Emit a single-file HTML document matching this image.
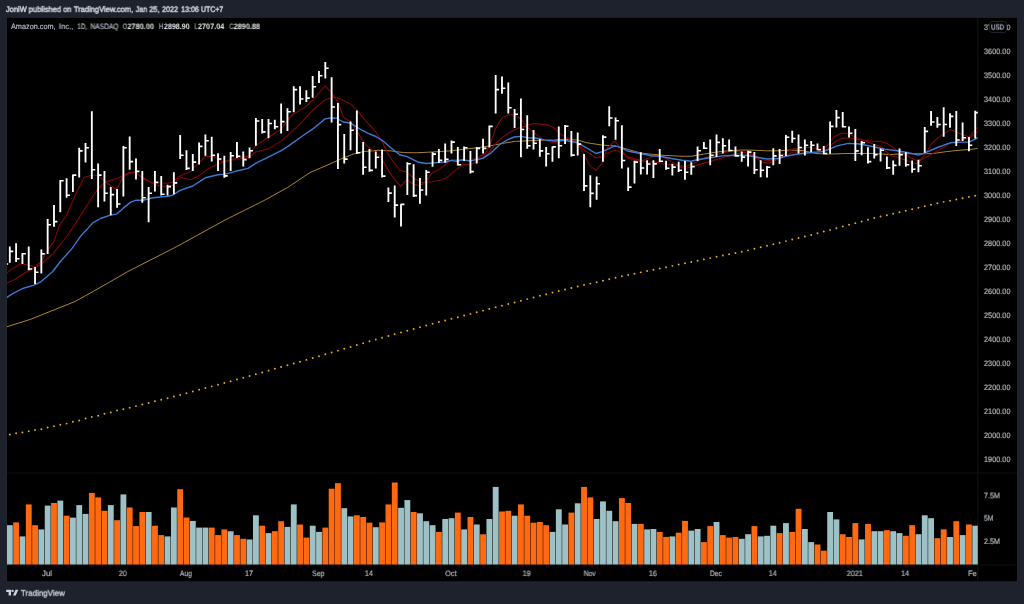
<!DOCTYPE html><html><head><meta charset="utf-8"><title>AMZN chart</title><style>
html,body{margin:0;padding:0}body{width:1024px;height:604px;background:#1e222d;position:relative;overflow:hidden;font-family:"Liberation Sans",sans-serif;text-rendering:geometricPrecision}
.t{position:absolute;white-space:nowrap;line-height:1;transform-origin:0 50%;display:block;filter:blur(0.3px)}
#axisclip{position:absolute;left:7px;top:565px;width:970.3px;height:16.5px;overflow:hidden}
#badge{position:absolute;left:988.9px;top:20.6px;width:15.9px;height:10.5px;border:0.8px solid #1d212b;border-radius:3px;background:#000}
</style></head><body>
<svg width="1024" height="604" viewBox="0 0 1024 604" style="position:absolute;left:0;top:0"><rect x="6.300000000000001" y="17.099999999999998" width="1011.4000000000001" height="565.15" fill="#2a2e39"/><rect x="6.9" y="17.7" width="1010.2" height="563.75" fill="#000"/><clipPath id="cp"><rect x="6.9" y="17.7" width="970.9" height="547.3"/></clipPath><rect x="977.3499999999999" y="17.7" width="0.9" height="563.75" fill="#131417"/><rect x="6.9" y="472.55" width="1010.2" height="0.9" fill="#131417"/><rect x="6.9" y="564.55" width="1010.2" height="0.9" fill="#131417"/><g clip-path="url(#cp)"><rect x="6.90" y="525.2" width="5.85" height="39.3" fill="#9ec1c5"/><rect x="13.21" y="522.4" width="5.85" height="42.1" fill="#ff6912"/><rect x="19.52" y="536.4" width="5.85" height="28.1" fill="#9ec1c5"/><rect x="25.83" y="504.4" width="5.85" height="60.1" fill="#ff6912"/><rect x="32.14" y="525.2" width="5.85" height="39.3" fill="#ff6912"/><rect x="38.45" y="529.4" width="5.85" height="35.1" fill="#9ec1c5"/><rect x="44.76" y="505.6" width="5.85" height="58.9" fill="#9ec1c5"/><rect x="51.07" y="503.0" width="5.85" height="61.5" fill="#ff6912"/><rect x="57.38" y="500.6" width="5.85" height="63.9" fill="#9ec1c5"/><rect x="63.69" y="515.7" width="5.85" height="48.8" fill="#ff6912"/><rect x="70.00" y="517.6" width="5.85" height="46.9" fill="#9ec1c5"/><rect x="76.31" y="505.1" width="5.85" height="59.4" fill="#9ec1c5"/><rect x="82.62" y="513.9" width="5.85" height="50.6" fill="#9ec1c5"/><rect x="88.93" y="492.9" width="5.85" height="71.6" fill="#ff6912"/><rect x="95.24" y="497.4" width="5.85" height="67.1" fill="#ff6912"/><rect x="101.55" y="510.8" width="5.85" height="53.7" fill="#ff6912"/><rect x="107.86" y="505.1" width="5.85" height="59.4" fill="#9ec1c5"/><rect x="114.17" y="520.2" width="5.85" height="44.3" fill="#ff6912"/><rect x="120.48" y="494.4" width="5.85" height="70.1" fill="#9ec1c5"/><rect x="126.79" y="507.5" width="5.85" height="57.0" fill="#ff6912"/><rect x="133.10" y="526.1" width="5.85" height="38.4" fill="#ff6912"/><rect x="139.41" y="512.0" width="5.85" height="52.5" fill="#ff6912"/><rect x="145.72" y="512.0" width="5.85" height="52.5" fill="#9ec1c5"/><rect x="152.03" y="525.7" width="5.85" height="38.8" fill="#ff6912"/><rect x="158.34" y="535.1" width="5.85" height="29.4" fill="#ff6912"/><rect x="164.65" y="536.4" width="5.85" height="28.1" fill="#9ec1c5"/><rect x="170.96" y="507.5" width="5.85" height="57.0" fill="#9ec1c5"/><rect x="177.27" y="489.2" width="5.85" height="75.3" fill="#ff6912"/><rect x="183.58" y="517.5" width="5.85" height="47.0" fill="#ff6912"/><rect x="189.89" y="520.9" width="5.85" height="43.6" fill="#9ec1c5"/><rect x="196.20" y="527.6" width="5.85" height="36.9" fill="#9ec1c5"/><rect x="202.51" y="527.6" width="5.85" height="36.9" fill="#9ec1c5"/><rect x="208.82" y="527.6" width="5.85" height="36.9" fill="#ff6912"/><rect x="215.13" y="535.1" width="5.85" height="29.4" fill="#ff6912"/><rect x="221.44" y="529.4" width="5.85" height="35.1" fill="#ff6912"/><rect x="227.75" y="531.3" width="5.85" height="33.2" fill="#9ec1c5"/><rect x="234.06" y="535.1" width="5.85" height="29.4" fill="#ff6912"/><rect x="240.37" y="538.8" width="5.85" height="25.7" fill="#ff6912"/><rect x="246.68" y="539.5" width="5.85" height="25.0" fill="#9ec1c5"/><rect x="252.99" y="515.3" width="5.85" height="49.2" fill="#9ec1c5"/><rect x="259.30" y="525.7" width="5.85" height="38.8" fill="#ff6912"/><rect x="265.61" y="533.1" width="5.85" height="31.4" fill="#9ec1c5"/><rect x="271.92" y="531.2" width="5.85" height="33.3" fill="#ff6912"/><rect x="278.23" y="521.2" width="5.85" height="43.3" fill="#ff6912"/><rect x="284.54" y="526.9" width="5.85" height="37.6" fill="#9ec1c5"/><rect x="290.85" y="504.4" width="5.85" height="60.1" fill="#9ec1c5"/><rect x="297.16" y="524.5" width="5.85" height="40.0" fill="#ff6912"/><rect x="303.47" y="537.6" width="5.85" height="26.9" fill="#ff6912"/><rect x="309.78" y="525.7" width="5.85" height="38.8" fill="#9ec1c5"/><rect x="316.09" y="531.9" width="5.85" height="32.6" fill="#9ec1c5"/><rect x="322.40" y="527.6" width="5.85" height="36.9" fill="#ff6912"/><rect x="328.71" y="488.7" width="5.85" height="75.8" fill="#ff6912"/><rect x="335.02" y="483.2" width="5.85" height="81.3" fill="#ff6912"/><rect x="341.33" y="508.2" width="5.85" height="56.3" fill="#9ec1c5"/><rect x="347.64" y="516.4" width="5.85" height="48.1" fill="#9ec1c5"/><rect x="353.95" y="515.3" width="5.85" height="49.2" fill="#ff6912"/><rect x="360.26" y="517.0" width="5.85" height="47.5" fill="#ff6912"/><rect x="366.57" y="522.7" width="5.85" height="41.8" fill="#ff6912"/><rect x="372.88" y="527.2" width="5.85" height="37.3" fill="#9ec1c5"/><rect x="379.19" y="522.4" width="5.85" height="42.1" fill="#ff6912"/><rect x="385.50" y="504.4" width="5.85" height="60.1" fill="#ff6912"/><rect x="391.81" y="482.5" width="5.85" height="82.0" fill="#ff6912"/><rect x="398.12" y="507.8" width="5.85" height="56.7" fill="#9ec1c5"/><rect x="404.43" y="500.1" width="5.85" height="64.4" fill="#9ec1c5"/><rect x="410.74" y="512.0" width="5.85" height="52.5" fill="#ff6912"/><rect x="417.05" y="513.3" width="5.85" height="51.2" fill="#9ec1c5"/><rect x="423.36" y="521.2" width="5.85" height="43.3" fill="#9ec1c5"/><rect x="429.67" y="525.2" width="5.85" height="39.3" fill="#9ec1c5"/><rect x="435.98" y="531.9" width="5.85" height="32.6" fill="#ff6912"/><rect x="442.29" y="519.0" width="5.85" height="45.5" fill="#9ec1c5"/><rect x="448.60" y="518.2" width="5.85" height="46.3" fill="#9ec1c5"/><rect x="454.91" y="512.6" width="5.85" height="51.9" fill="#ff6912"/><rect x="461.22" y="529.4" width="5.85" height="35.1" fill="#9ec1c5"/><rect x="467.53" y="517.0" width="5.85" height="47.5" fill="#ff6912"/><rect x="473.84" y="524.5" width="5.85" height="40.0" fill="#9ec1c5"/><rect x="480.15" y="534.3" width="5.85" height="30.2" fill="#ff6912"/><rect x="486.46" y="519.0" width="5.85" height="45.5" fill="#9ec1c5"/><rect x="492.77" y="486.9" width="5.85" height="77.6" fill="#9ec1c5"/><rect x="499.08" y="511.5" width="5.85" height="53.0" fill="#ff6912"/><rect x="505.39" y="510.8" width="5.85" height="53.7" fill="#ff6912"/><rect x="511.70" y="515.7" width="5.85" height="48.8" fill="#9ec1c5"/><rect x="518.01" y="504.4" width="5.85" height="60.1" fill="#ff6912"/><rect x="524.32" y="515.7" width="5.85" height="48.8" fill="#ff6912"/><rect x="530.63" y="522.7" width="5.85" height="41.8" fill="#ff6912"/><rect x="536.94" y="522.0" width="5.85" height="42.5" fill="#ff6912"/><rect x="543.25" y="525.2" width="5.85" height="39.3" fill="#ff6912"/><rect x="549.56" y="531.9" width="5.85" height="32.6" fill="#9ec1c5"/><rect x="555.87" y="509.3" width="5.85" height="55.2" fill="#9ec1c5"/><rect x="562.18" y="524.5" width="5.85" height="40.0" fill="#9ec1c5"/><rect x="568.49" y="512.6" width="5.85" height="51.9" fill="#ff6912"/><rect x="574.80" y="503.3" width="5.85" height="61.2" fill="#9ec1c5"/><rect x="581.11" y="486.9" width="5.85" height="77.6" fill="#ff6912"/><rect x="587.42" y="497.4" width="5.85" height="67.1" fill="#ff6912"/><rect x="593.73" y="519.0" width="5.85" height="45.5" fill="#9ec1c5"/><rect x="600.04" y="501.4" width="5.85" height="63.1" fill="#9ec1c5"/><rect x="606.35" y="510.8" width="5.85" height="53.7" fill="#9ec1c5"/><rect x="612.66" y="521.2" width="5.85" height="43.3" fill="#9ec1c5"/><rect x="618.97" y="498.1" width="5.85" height="66.4" fill="#ff6912"/><rect x="625.28" y="503.0" width="5.85" height="61.5" fill="#ff6912"/><rect x="631.59" y="523.9" width="5.85" height="40.6" fill="#9ec1c5"/><rect x="637.90" y="523.9" width="5.85" height="40.6" fill="#ff6912"/><rect x="644.21" y="529.4" width="5.85" height="35.1" fill="#9ec1c5"/><rect x="650.52" y="529.0" width="5.85" height="35.5" fill="#9ec1c5"/><rect x="656.83" y="531.9" width="5.85" height="32.6" fill="#ff6912"/><rect x="663.14" y="536.9" width="5.85" height="27.6" fill="#ff6912"/><rect x="669.45" y="536.4" width="5.85" height="28.1" fill="#9ec1c5"/><rect x="675.76" y="532.7" width="5.85" height="31.8" fill="#ff6912"/><rect x="682.07" y="520.9" width="5.85" height="43.6" fill="#ff6912"/><rect x="688.38" y="530.6" width="5.85" height="33.9" fill="#9ec1c5"/><rect x="694.69" y="529.0" width="5.85" height="35.5" fill="#9ec1c5"/><rect x="701.00" y="542.1" width="5.85" height="22.4" fill="#ff6912"/><rect x="707.31" y="526.1" width="5.85" height="38.4" fill="#ff6912"/><rect x="713.62" y="522.0" width="5.85" height="42.5" fill="#9ec1c5"/><rect x="719.93" y="535.1" width="5.85" height="29.4" fill="#ff6912"/><rect x="726.24" y="537.6" width="5.85" height="26.9" fill="#ff6912"/><rect x="732.55" y="537.0" width="5.85" height="27.5" fill="#ff6912"/><rect x="738.86" y="538.8" width="5.85" height="25.7" fill="#9ec1c5"/><rect x="745.17" y="534.2" width="5.85" height="30.3" fill="#9ec1c5"/><rect x="751.48" y="526.1" width="5.85" height="38.4" fill="#ff6912"/><rect x="757.79" y="536.4" width="5.85" height="28.1" fill="#9ec1c5"/><rect x="764.10" y="535.8" width="5.85" height="28.7" fill="#9ec1c5"/><rect x="770.41" y="525.7" width="5.85" height="38.8" fill="#9ec1c5"/><rect x="776.72" y="533.1" width="5.85" height="31.4" fill="#ff6912"/><rect x="783.03" y="523.1" width="5.85" height="41.4" fill="#9ec1c5"/><rect x="789.34" y="531.9" width="5.85" height="32.6" fill="#ff6912"/><rect x="795.65" y="508.8" width="5.85" height="55.7" fill="#ff6912"/><rect x="801.96" y="529.0" width="5.85" height="35.5" fill="#9ec1c5"/><rect x="808.27" y="542.1" width="5.85" height="22.4" fill="#9ec1c5"/><rect x="814.58" y="544.5" width="5.85" height="20.0" fill="#ff6912"/><rect x="820.89" y="550.7" width="5.85" height="13.8" fill="#ff6912"/><rect x="827.20" y="512.0" width="5.85" height="52.5" fill="#9ec1c5"/><rect x="833.51" y="519.4" width="5.85" height="45.1" fill="#9ec1c5"/><rect x="839.82" y="534.3" width="5.85" height="30.2" fill="#ff6912"/><rect x="846.13" y="537.0" width="5.85" height="27.5" fill="#ff6912"/><rect x="852.44" y="523.1" width="5.85" height="41.4" fill="#ff6912"/><rect x="858.75" y="539.4" width="5.85" height="25.1" fill="#9ec1c5"/><rect x="865.06" y="523.9" width="5.85" height="40.6" fill="#ff6912"/><rect x="871.37" y="531.2" width="5.85" height="33.3" fill="#9ec1c5"/><rect x="877.68" y="531.2" width="5.85" height="33.3" fill="#9ec1c5"/><rect x="883.99" y="530.2" width="5.85" height="34.3" fill="#ff6912"/><rect x="890.30" y="531.2" width="5.85" height="33.3" fill="#9ec1c5"/><rect x="896.61" y="533.1" width="5.85" height="31.4" fill="#9ec1c5"/><rect x="902.92" y="535.8" width="5.85" height="28.7" fill="#ff6912"/><rect x="909.23" y="525.2" width="5.85" height="39.3" fill="#ff6912"/><rect x="915.54" y="534.2" width="5.85" height="30.3" fill="#9ec1c5"/><rect x="921.85" y="515.3" width="5.85" height="49.2" fill="#9ec1c5"/><rect x="928.16" y="518.2" width="5.85" height="46.3" fill="#9ec1c5"/><rect x="934.47" y="538.2" width="5.85" height="26.3" fill="#ff6912"/><rect x="940.78" y="529.4" width="5.85" height="35.1" fill="#ff6912"/><rect x="947.09" y="537.0" width="5.85" height="27.5" fill="#9ec1c5"/><rect x="953.40" y="521.2" width="5.85" height="43.3" fill="#ff6912"/><rect x="959.71" y="535.1" width="5.85" height="29.4" fill="#9ec1c5"/><rect x="966.02" y="524.5" width="5.85" height="40.0" fill="#ff6912"/><rect x="972.33" y="525.7" width="5.85" height="38.8" fill="#9ec1c5"/><path d="M6.0,327.0 L30.0,319.5 L75.0,301.5 L90.6,292.9 L108.2,282.9 L127.9,271.5 L175.0,247.5 L225.0,220.0 L263.1,201.0 L287.9,187.3 L310.0,172.5 L328.0,164.8 L340.6,159.1 L353.2,154.1 L363.2,151.6 L378.3,150.3 L390.9,150.9 L403.5,152.6 L416.1,152.8 L428.6,152.2 L441.2,151.5 L452.6,150.7 L465.2,149.0 L477.7,147.7 L490.3,145.8 L502.9,143.3 L515.5,141.4 L528.1,140.8 L540.6,140.2 L553.2,140.1 L564.6,139.3 L577.2,140.0 L587.2,142.8 L602.3,145.1 L614.9,145.9 L627.5,149.3 L640.1,152.9 L652.6,154.4 L665.2,155.4 L679.9,156.2 L690.9,156.3 L703.4,154.2 L716.0,152.1 L728.6,150.8 L741.2,150.0 L753.8,150.2 L766.3,150.8 L778.9,150.8 L791.5,150.0 L802.9,150.6 L815.4,153.5 L828.0,154.1 L846.9,153.5 L872.1,153.5 L890.9,154.5 L903.5,153.7 L921.2,153.8 L933.7,153.5 L946.3,151.6 L958.9,150.3 L971.5,149.3 L977.8,148.4" fill="none" stroke="#aa852a" stroke-width="1.0" stroke-linejoin="round"/><path d="M6.5,283.5 L15.1,279.3 L25.2,272.8 L32.7,269.0 L41.5,264.0 L52.8,253.9 L60.4,244.5 L67.0,236.0 L72.7,227.9 L81.5,214.1 L90.3,200.3 L97.9,188.9 L105.4,182.0 L115.5,178.9 L123.0,175.7 L129.3,172.6 L135.6,172.6 L143.1,177.6 L150.7,182.6 L159.5,186.0 L167.9,186.5 L172.6,185.4 L180.1,177.5 L190.2,179.7 L197.7,176.6 L207.8,169.0 L217.9,164.0 L227.9,160.8 L238.0,159.0 L248.1,158.0 L255.6,152.0 L268.2,148.9 L280.8,141.4 L287.6,135.6 L299.9,124.2 L312.5,110.3 L325.1,100.0 L331.4,97.7 L337.7,97.7 L345.2,101.5 L351.0,104.2 L356.9,110.1 L365.7,120.8 L374.5,130.2 L382.1,141.5 L388.5,155.0 L399.9,170.5 L406.2,171.9 L413.7,178.0 L422.5,183.0 L431.3,181.8 L442.0,179.8 L447.0,177.5 L455.1,170.6 L463.3,164.5 L470.8,164.8 L479.7,159.3 L487.4,154.5 L495.3,144.0 L502.9,137.0 L510.4,132.0 L518.0,128.2 L525.5,126.1 L533.1,123.6 L540.6,124.1 L548.2,125.1 L553.0,127.0 L559.9,133.6 L567.5,138.4 L577.2,143.4 L584.7,150.3 L596.0,157.9 L602.3,156.6 L607.3,152.9 L614.9,150.3 L621.2,152.2 L627.5,156.6 L640.1,160.4 L647.6,162.3 L652.6,161.7 L660.2,162.9 L667.7,164.8 L676.0,164.8 L679.7,167.2 L685.8,168.5 L694.6,165.9 L703.4,163.4 L716.0,159.7 L728.6,155.9 L741.2,152.7 L750.0,153.4 L760.1,158.4 L767.6,160.9 L775.1,159.7 L784.6,155.9 L792.8,152.3 L800.0,151.5 L809.2,152.8 L821.7,151.6 L826.8,149.7 L834.3,142.1 L841.9,138.4 L849.4,137.7 L859.5,139.6 L872.1,143.4 L882.1,147.2 L890.9,156.0 L897.2,157.2 L905.5,160.3 L916.1,163.5 L921.2,159.7 L927.4,156.6 L936.3,151.6 L946.3,145.9 L951.3,142.8 L958.9,140.9 L966.4,138.4 L971.5,136.5 L977.8,131.4" fill="none" stroke="#830606" stroke-width="1.1" stroke-linejoin="round"/><path d="M6.5,273.4 L12.6,268.4 L21.4,263.7 L28.9,265.3 L35.2,266.5 L41.5,261.5 L47.8,249.5 L54.1,241.4 L58.9,226.5 L66.4,215.3 L75.2,195.2 L84.0,177.4 L91.6,175.3 L97.9,175.3 L105.4,182.0 L115.5,188.9 L118.0,187.0 L123.0,176.4 L129.3,173.2 L135.6,171.9 L143.1,178.9 L150.7,182.0 L159.5,182.8 L167.9,183.3 L172.6,182.2 L178.9,176.6 L191.4,170.9 L197.7,164.0 L205.3,156.4 L214.1,156.4 L222.9,162.1 L230.4,160.2 L238.0,158.0 L248.1,156.4 L255.6,145.8 L268.2,137.2 L279.8,130.2 L292.4,114.7 L305.0,107.2 L313.8,99.0 L325.1,85.8 L331.4,92.7 L337.7,101.5 L343.5,117.2 L350.4,121.5 L356.9,131.4 L365.7,144.7 L373.3,150.9 L380.3,156.4 L391.1,174.9 L400.5,186.2 L406.8,179.9 L413.7,184.3 L420.0,185.6 L426.3,181.2 L431.3,173.6 L440.2,168.8 L447.6,162.8 L452.0,159.4 L456.5,159.8 L462.7,159.5 L469.6,161.3 L477.2,158.1 L485.3,153.4 L490.3,144.0 L495.3,128.9 L501.6,118.2 L507.9,115.0 L514.2,114.8 L520.5,118.8 L528.1,127.6 L535.6,133.9 L543.1,139.6 L550.7,142.1 L558.2,143.3 L567.9,137.5 L577.2,143.4 L580.9,149.1 L589.7,165.4 L596.0,170.5 L602.3,162.9 L607.3,147.8 L614.9,140.9 L621.2,149.1 L627.5,157.9 L640.1,161.7 L652.6,156.6 L658.9,155.4 L667.7,159.2 L678.3,165.6 L685.8,166.6 L694.6,162.8 L703.4,158.4 L716.0,154.6 L728.6,151.5 L737.4,151.5 L747.5,152.7 L753.8,156.5 L762.6,162.2 L767.6,163.4 L775.1,160.9 L782.7,155.3 L791.5,149.0 L799.9,148.0 L809.2,147.2 L821.7,149.1 L826.8,146.5 L834.3,136.5 L841.9,133.0 L849.4,133.7 L855.7,137.7 L864.5,140.3 L872.1,141.3 L879.6,141.3 L887.1,143.4 L897.2,150.5 L904.2,153.5 L911.5,158.2 L918.6,161.0 L924.9,155.3 L931.2,144.0 L938.8,137.1 L946.3,132.1 L950.1,129.6 L956.4,132.1 L962.7,134.6 L969.0,137.1 L974.0,131.4 L977.8,127.0" fill="none" stroke="#830606" stroke-width="1.1" stroke-linejoin="round"/><path d="M6.5,297.7 L12.6,293.6 L22.6,288.5 L34.0,285.1 L40.3,282.2 L52.8,271.5 L60.4,261.5 L71.7,248.9 L80.5,236.3 L86.8,229.6 L92.8,222.9 L100.4,218.5 L110.4,215.1 L116.7,214.1 L123.0,208.4 L130.6,202.1 L135.6,200.3 L143.1,200.3 L153.2,197.7 L160.0,197.0 L167.9,196.2 L172.6,195.2 L180.1,190.4 L192.7,186.0 L205.3,177.8 L217.9,174.7 L225.4,174.1 L235.5,171.3 L248.1,168.4 L255.6,163.4 L268.2,157.1 L280.8,150.8 L287.9,146.4 L302.4,136.0 L312.5,129.2 L325.1,118.9 L331.4,117.8 L336.4,118.1 L343.1,122.0 L350.4,123.0 L359.6,128.8 L368.3,133.3 L375.8,136.5 L382.1,140.3 L390.9,147.8 L399.7,154.7 L407.2,156.6 L418.6,162.3 L426.1,163.5 L436.2,162.6 L446.2,162.0 L451.0,160.4 L456.2,161.3 L462.6,159.7 L470.2,160.9 L482.8,158.4 L490.3,153.4 L500.4,144.0 L507.9,139.6 L514.2,137.0 L520.5,136.4 L528.1,137.7 L536.9,138.3 L544.4,139.9 L555.0,141.0 L564.6,140.3 L577.2,142.5 L582.2,145.3 L596.0,153.5 L602.3,151.6 L614.9,145.9 L621.2,147.6 L627.5,151.0 L640.1,153.5 L652.6,156.0 L658.9,156.0 L671.5,158.5 L682.1,160.3 L690.9,161.3 L697.2,159.7 L709.7,157.8 L722.3,155.9 L734.9,155.3 L747.5,155.5 L760.1,157.8 L767.6,159.0 L778.9,158.4 L787.0,156.0 L796.6,154.3 L809.2,152.8 L821.7,151.6 L826.8,150.3 L836.8,145.9 L848.2,143.4 L859.5,144.0 L872.1,146.5 L884.6,149.1 L897.2,150.7 L908.6,152.8 L918.6,155.1 L924.9,152.8 L937.5,147.5 L950.1,142.8 L962.7,142.1 L969.0,142.1 L977.8,137.7" fill="none" stroke="#3b79d2" stroke-width="1.4" stroke-linejoin="round"/><circle cx="9.80" cy="434.50" r="0.98" fill="#e2ab20"/><circle cx="16.11" cy="433.19" r="0.98" fill="#e2ab20"/><circle cx="22.42" cy="432.58" r="0.98" fill="#e2ab20"/><circle cx="28.73" cy="431.27" r="0.98" fill="#e2ab20"/><circle cx="35.04" cy="430.07" r="0.98" fill="#e2ab20"/><circle cx="41.35" cy="429.29" r="0.98" fill="#e2ab20"/><circle cx="47.66" cy="427.41" r="0.98" fill="#e2ab20"/><circle cx="53.97" cy="426.19" r="0.98" fill="#e2ab20"/><circle cx="60.28" cy="424.80" r="0.98" fill="#e2ab20"/><circle cx="66.59" cy="423.62" r="0.98" fill="#e2ab20"/><circle cx="72.90" cy="421.78" r="0.98" fill="#e2ab20"/><circle cx="79.21" cy="420.42" r="0.98" fill="#e2ab20"/><circle cx="85.52" cy="418.54" r="0.98" fill="#e2ab20"/><circle cx="91.83" cy="416.89" r="0.98" fill="#e2ab20"/><circle cx="98.14" cy="415.69" r="0.98" fill="#e2ab20"/><circle cx="104.45" cy="413.69" r="0.98" fill="#e2ab20"/><circle cx="110.76" cy="412.48" r="0.98" fill="#e2ab20"/><circle cx="117.07" cy="410.59" r="0.98" fill="#e2ab20"/><circle cx="123.38" cy="409.30" r="0.98" fill="#e2ab20"/><circle cx="129.69" cy="407.71" r="0.98" fill="#e2ab20"/><circle cx="136.00" cy="406.12" r="0.98" fill="#e2ab20"/><circle cx="142.31" cy="404.52" r="0.98" fill="#e2ab20"/><circle cx="148.62" cy="402.93" r="0.98" fill="#e2ab20"/><circle cx="154.93" cy="401.33" r="0.98" fill="#e2ab20"/><circle cx="161.24" cy="399.74" r="0.98" fill="#e2ab20"/><circle cx="167.55" cy="398.15" r="0.98" fill="#e2ab20"/><circle cx="173.86" cy="396.55" r="0.98" fill="#e2ab20"/><circle cx="180.17" cy="394.95" r="0.98" fill="#e2ab20"/><circle cx="186.48" cy="393.24" r="0.98" fill="#e2ab20"/><circle cx="192.79" cy="391.52" r="0.98" fill="#e2ab20"/><circle cx="199.10" cy="389.80" r="0.98" fill="#e2ab20"/><circle cx="205.41" cy="388.09" r="0.98" fill="#e2ab20"/><circle cx="211.72" cy="386.37" r="0.98" fill="#e2ab20"/><circle cx="218.03" cy="384.66" r="0.98" fill="#e2ab20"/><circle cx="224.34" cy="382.94" r="0.98" fill="#e2ab20"/><circle cx="230.65" cy="381.22" r="0.98" fill="#e2ab20"/><circle cx="236.96" cy="379.51" r="0.98" fill="#e2ab20"/><circle cx="243.27" cy="377.78" r="0.98" fill="#e2ab20"/><circle cx="249.58" cy="375.99" r="0.98" fill="#e2ab20"/><circle cx="255.89" cy="374.20" r="0.98" fill="#e2ab20"/><circle cx="262.20" cy="372.42" r="0.98" fill="#e2ab20"/><circle cx="268.51" cy="370.63" r="0.98" fill="#e2ab20"/><circle cx="274.82" cy="368.84" r="0.98" fill="#e2ab20"/><circle cx="281.13" cy="367.05" r="0.98" fill="#e2ab20"/><circle cx="287.44" cy="365.26" r="0.98" fill="#e2ab20"/><circle cx="293.75" cy="363.47" r="0.98" fill="#e2ab20"/><circle cx="300.06" cy="361.68" r="0.98" fill="#e2ab20"/><circle cx="306.37" cy="359.89" r="0.98" fill="#e2ab20"/><circle cx="312.68" cy="358.03" r="0.98" fill="#e2ab20"/><circle cx="318.99" cy="356.18" r="0.98" fill="#e2ab20"/><circle cx="325.30" cy="354.32" r="0.98" fill="#e2ab20"/><circle cx="331.61" cy="352.47" r="0.98" fill="#e2ab20"/><circle cx="337.92" cy="350.61" r="0.98" fill="#e2ab20"/><circle cx="344.23" cy="348.75" r="0.98" fill="#e2ab20"/><circle cx="350.54" cy="346.90" r="0.98" fill="#e2ab20"/><circle cx="356.85" cy="345.04" r="0.98" fill="#e2ab20"/><circle cx="363.16" cy="343.18" r="0.98" fill="#e2ab20"/><circle cx="369.47" cy="341.33" r="0.98" fill="#e2ab20"/><circle cx="375.78" cy="339.48" r="0.98" fill="#e2ab20"/><circle cx="382.09" cy="337.73" r="0.98" fill="#e2ab20"/><circle cx="388.40" cy="335.98" r="0.98" fill="#e2ab20"/><circle cx="394.71" cy="334.23" r="0.98" fill="#e2ab20"/><circle cx="401.02" cy="332.48" r="0.98" fill="#e2ab20"/><circle cx="407.33" cy="330.73" r="0.98" fill="#e2ab20"/><circle cx="413.64" cy="328.98" r="0.98" fill="#e2ab20"/><circle cx="419.95" cy="327.23" r="0.98" fill="#e2ab20"/><circle cx="426.26" cy="325.48" r="0.98" fill="#e2ab20"/><circle cx="432.57" cy="323.73" r="0.98" fill="#e2ab20"/><circle cx="438.88" cy="322.09" r="0.98" fill="#e2ab20"/><circle cx="445.19" cy="320.45" r="0.98" fill="#e2ab20"/><circle cx="451.50" cy="318.81" r="0.98" fill="#e2ab20"/><circle cx="457.81" cy="317.17" r="0.98" fill="#e2ab20"/><circle cx="464.12" cy="315.53" r="0.98" fill="#e2ab20"/><circle cx="470.43" cy="313.89" r="0.98" fill="#e2ab20"/><circle cx="476.74" cy="312.25" r="0.98" fill="#e2ab20"/><circle cx="483.05" cy="310.61" r="0.98" fill="#e2ab20"/><circle cx="489.36" cy="308.97" r="0.98" fill="#e2ab20"/><circle cx="495.67" cy="307.33" r="0.98" fill="#e2ab20"/><circle cx="501.98" cy="305.69" r="0.98" fill="#e2ab20"/><circle cx="508.29" cy="304.04" r="0.98" fill="#e2ab20"/><circle cx="514.60" cy="302.40" r="0.98" fill="#e2ab20"/><circle cx="520.91" cy="300.76" r="0.98" fill="#e2ab20"/><circle cx="527.22" cy="299.12" r="0.98" fill="#e2ab20"/><circle cx="533.53" cy="297.48" r="0.98" fill="#e2ab20"/><circle cx="539.84" cy="295.84" r="0.98" fill="#e2ab20"/><circle cx="546.15" cy="294.20" r="0.98" fill="#e2ab20"/><circle cx="552.46" cy="292.56" r="0.98" fill="#e2ab20"/><circle cx="558.77" cy="290.95" r="0.98" fill="#e2ab20"/><circle cx="565.08" cy="289.49" r="0.98" fill="#e2ab20"/><circle cx="571.39" cy="288.02" r="0.98" fill="#e2ab20"/><circle cx="577.70" cy="286.55" r="0.98" fill="#e2ab20"/><circle cx="584.01" cy="285.08" r="0.98" fill="#e2ab20"/><circle cx="590.32" cy="283.62" r="0.98" fill="#e2ab20"/><circle cx="596.63" cy="282.15" r="0.98" fill="#e2ab20"/><circle cx="602.94" cy="280.68" r="0.98" fill="#e2ab20"/><circle cx="609.25" cy="279.22" r="0.98" fill="#e2ab20"/><circle cx="615.56" cy="277.75" r="0.98" fill="#e2ab20"/><circle cx="621.87" cy="276.28" r="0.98" fill="#e2ab20"/><circle cx="628.18" cy="274.97" r="0.98" fill="#e2ab20"/><circle cx="634.49" cy="273.67" r="0.98" fill="#e2ab20"/><circle cx="640.80" cy="272.37" r="0.98" fill="#e2ab20"/><circle cx="647.11" cy="271.07" r="0.98" fill="#e2ab20"/><circle cx="653.42" cy="269.77" r="0.98" fill="#e2ab20"/><circle cx="659.73" cy="268.46" r="0.98" fill="#e2ab20"/><circle cx="666.04" cy="267.16" r="0.98" fill="#e2ab20"/><circle cx="672.35" cy="265.86" r="0.98" fill="#e2ab20"/><circle cx="678.66" cy="264.56" r="0.98" fill="#e2ab20"/><circle cx="684.97" cy="263.26" r="0.98" fill="#e2ab20"/><circle cx="691.28" cy="261.97" r="0.98" fill="#e2ab20"/><circle cx="697.59" cy="260.68" r="0.98" fill="#e2ab20"/><circle cx="703.90" cy="259.39" r="0.98" fill="#e2ab20"/><circle cx="710.21" cy="258.11" r="0.98" fill="#e2ab20"/><circle cx="716.52" cy="256.82" r="0.98" fill="#e2ab20"/><circle cx="722.83" cy="255.53" r="0.98" fill="#e2ab20"/><circle cx="729.14" cy="254.25" r="0.98" fill="#e2ab20"/><circle cx="735.45" cy="252.96" r="0.98" fill="#e2ab20"/><circle cx="741.76" cy="251.67" r="0.98" fill="#e2ab20"/><circle cx="748.07" cy="250.36" r="0.98" fill="#e2ab20"/><circle cx="754.38" cy="248.82" r="0.98" fill="#e2ab20"/><circle cx="760.69" cy="247.28" r="0.98" fill="#e2ab20"/><circle cx="767.00" cy="245.74" r="0.98" fill="#e2ab20"/><circle cx="773.31" cy="244.20" r="0.98" fill="#e2ab20"/><circle cx="779.62" cy="242.66" r="0.98" fill="#e2ab20"/><circle cx="785.93" cy="241.12" r="0.98" fill="#e2ab20"/><circle cx="792.24" cy="239.58" r="0.98" fill="#e2ab20"/><circle cx="798.55" cy="238.04" r="0.98" fill="#e2ab20"/><circle cx="804.86" cy="236.50" r="0.98" fill="#e2ab20"/><circle cx="811.17" cy="234.95" r="0.98" fill="#e2ab20"/><circle cx="817.48" cy="233.27" r="0.98" fill="#e2ab20"/><circle cx="823.79" cy="231.58" r="0.98" fill="#e2ab20"/><circle cx="830.10" cy="229.89" r="0.98" fill="#e2ab20"/><circle cx="836.41" cy="228.20" r="0.98" fill="#e2ab20"/><circle cx="842.72" cy="226.51" r="0.98" fill="#e2ab20"/><circle cx="849.03" cy="224.82" r="0.98" fill="#e2ab20"/><circle cx="855.34" cy="223.13" r="0.98" fill="#e2ab20"/><circle cx="861.65" cy="221.44" r="0.98" fill="#e2ab20"/><circle cx="867.96" cy="219.75" r="0.98" fill="#e2ab20"/><circle cx="874.27" cy="218.06" r="0.98" fill="#e2ab20"/><circle cx="880.58" cy="216.60" r="0.98" fill="#e2ab20"/><circle cx="886.89" cy="215.15" r="0.98" fill="#e2ab20"/><circle cx="893.20" cy="213.70" r="0.98" fill="#e2ab20"/><circle cx="899.51" cy="212.22" r="0.98" fill="#e2ab20"/><circle cx="905.82" cy="210.74" r="0.98" fill="#e2ab20"/><circle cx="912.13" cy="209.25" r="0.98" fill="#e2ab20"/><circle cx="918.44" cy="207.77" r="0.98" fill="#e2ab20"/><circle cx="924.75" cy="206.29" r="0.98" fill="#e2ab20"/><circle cx="931.06" cy="204.81" r="0.98" fill="#e2ab20"/><circle cx="937.37" cy="203.32" r="0.98" fill="#e2ab20"/><circle cx="943.68" cy="201.87" r="0.98" fill="#e2ab20"/><circle cx="949.99" cy="200.66" r="0.98" fill="#e2ab20"/><circle cx="956.30" cy="199.44" r="0.98" fill="#e2ab20"/><circle cx="962.61" cy="198.23" r="0.98" fill="#e2ab20"/><circle cx="968.92" cy="197.02" r="0.98" fill="#e2ab20"/><circle cx="975.23" cy="195.80" r="0.98" fill="#e2ab20"/><path d="M8.88,246.4h1.85V262.7h-1.85zM9.80,250.6h3.4v1.6h-3.4zM15.18,243.2h1.85V262.1h-1.85zM16.11,257.9h3.4v1.6h-3.4zM21.50,252.9h1.85V264.0h-1.85zM22.42,252.9h3.4v1.6h-3.4zM27.80,246.4h1.85V270.3h-1.85zM28.73,268.2h3.4v1.6h-3.4zM34.12,267.1h1.85V284.1h-1.85zM35.04,271.4h3.4v1.6h-3.4zM40.42,249.5h1.85V273.4h-1.85zM41.35,253.1h3.4v1.6h-3.4zM46.73,219.1h1.85V253.9h-1.85zM47.66,224.0h3.4v1.6h-3.4zM53.05,205.0h1.85V226.7h-1.85zM53.97,220.8h3.4v1.6h-3.4zM59.36,180.1h1.85V212.2h-1.85zM60.28,180.0h3.4v1.6h-3.4zM65.67,178.2h1.85V197.7h-1.85zM66.59,194.4h3.4v1.6h-3.4zM71.97,174.5h1.85V192.1h-1.85zM72.90,174.3h3.4v1.6h-3.4zM78.28,147.8h1.85V177.6h-1.85zM79.21,150.1h3.4v1.6h-3.4zM84.59,143.0h1.85V162.6h-1.85zM85.52,147.0h3.4v1.6h-3.4zM90.91,111.3h1.85V178.9h-1.85zM91.83,169.0h3.4v1.6h-3.4zM97.21,163.5h1.85V207.2h-1.85zM98.14,174.3h3.4v1.6h-3.4zM103.52,171.0h1.85V201.5h-1.85zM104.45,192.5h3.4v1.6h-3.4zM109.83,187.0h1.85V215.3h-1.85zM110.76,193.8h3.4v1.6h-3.4zM116.14,188.9h1.85V207.8h-1.85zM117.07,203.2h3.4v1.6h-3.4zM122.45,145.9h1.85V196.5h-1.85zM123.38,147.0h3.4v1.6h-3.4zM128.76,136.5h1.85V169.8h-1.85zM129.69,160.8h3.4v1.6h-3.4zM135.07,158.5h1.85V179.5h-1.85zM136.00,170.6h3.4v1.6h-3.4zM141.38,171.0h1.85V202.8h-1.85zM142.31,196.9h3.4v1.6h-3.4zM147.69,187.0h1.85V222.3h-1.85zM148.62,192.5h3.4v1.6h-3.4zM154.00,171.0h1.85V191.4h-1.85zM154.93,181.6h3.4v1.6h-3.4zM160.31,175.9h1.85V195.4h-1.85zM161.24,193.4h3.4v1.6h-3.4zM166.62,184.7h1.85V195.4h-1.85zM167.55,185.8h3.4v1.6h-3.4zM172.94,172.2h1.85V194.2h-1.85zM173.86,182.1h3.4v1.6h-3.4zM179.24,135.1h1.85V159.0h-1.85zM180.17,154.4h3.4v1.6h-3.4zM185.55,150.2h1.85V170.0h-1.85zM186.48,167.6h3.4v1.6h-3.4zM191.86,153.9h1.85V170.9h-1.85zM192.79,161.3h3.4v1.6h-3.4zM198.17,142.6h1.85V164.6h-1.85zM199.10,145.6h3.4v1.6h-3.4zM204.48,134.4h1.85V155.8h-1.85zM205.41,139.9h3.4v1.6h-3.4zM210.79,136.7h1.85V161.5h-1.85zM211.72,154.4h3.4v1.6h-3.4zM217.10,153.3h1.85V170.9h-1.85zM218.03,158.2h3.4v1.6h-3.4zM223.41,155.8h1.85V177.8h-1.85zM224.34,175.1h3.4v1.6h-3.4zM229.72,152.0h1.85V170.9h-1.85zM230.65,155.0h3.4v1.6h-3.4zM236.03,142.0h1.85V158.0h-1.85zM236.96,155.4h3.4v1.6h-3.4zM242.34,151.4h1.85V166.5h-1.85zM243.27,158.8h3.4v1.6h-3.4zM248.65,147.6h1.85V158.3h-1.85zM249.58,150.0h3.4v1.6h-3.4zM254.96,117.9h1.85V145.8h-1.85zM255.89,120.2h3.4v1.6h-3.4zM261.27,118.9h1.85V133.6h-1.85zM262.20,131.1h3.4v1.6h-3.4zM267.58,118.9h1.85V138.2h-1.85zM268.51,122.7h3.4v1.6h-3.4zM273.89,119.7h1.85V129.2h-1.85zM274.82,125.9h3.4v1.6h-3.4zM280.20,103.4h1.85V133.6h-1.85zM281.13,120.8h3.4v1.6h-3.4zM286.51,108.2h1.85V131.1h-1.85zM287.44,111.0h3.4v1.6h-3.4zM292.82,86.2h1.85V112.2h-1.85zM293.75,88.8h3.4v1.6h-3.4zM299.13,86.2h1.85V104.4h-1.85zM300.06,98.2h3.4v1.6h-3.4zM305.44,90.2h1.85V102.1h-1.85zM306.37,97.3h3.4v1.6h-3.4zM311.75,76.1h1.85V97.7h-1.85zM312.68,86.0h3.4v1.6h-3.4zM318.06,71.1h1.85V83.0h-1.85zM318.99,74.9h3.4v1.6h-3.4zM324.38,62.1h1.85V78.6h-1.85zM325.30,67.4h3.4v1.6h-3.4zM330.69,77.2h1.85V122.6h-1.85zM331.61,106.2h3.4v1.6h-3.4zM337.00,103.1h1.85V168.9h-1.85zM337.92,123.8h3.4v1.6h-3.4zM343.31,134.0h1.85V163.5h-1.85zM344.23,158.3h3.4v1.6h-3.4zM349.61,121.6h1.85V150.3h-1.85zM350.54,129.5h3.4v1.6h-3.4zM355.92,110.5h1.85V154.1h-1.85zM356.85,152.0h3.4v1.6h-3.4zM362.23,142.1h1.85V174.8h-1.85zM363.16,166.5h3.4v1.6h-3.4zM368.54,149.1h1.85V171.7h-1.85zM369.47,169.6h3.4v1.6h-3.4zM374.85,151.6h1.85V168.6h-1.85zM375.78,156.4h3.4v1.6h-3.4zM381.16,149.4h1.85V177.4h-1.85zM382.09,175.3h3.4v1.6h-3.4zM387.47,187.4h1.85V201.9h-1.85zM388.40,192.3h3.4v1.6h-3.4zM393.78,185.6h1.85V217.6h-1.85zM394.71,204.3h3.4v1.6h-3.4zM400.09,203.8h1.85V226.4h-1.85zM401.02,203.6h3.4v1.6h-3.4zM406.40,162.3h1.85V195.0h-1.85zM407.33,163.0h3.4v1.6h-3.4zM412.71,164.2h1.85V196.9h-1.85zM413.64,194.8h3.4v1.6h-3.4zM419.02,178.0h1.85V203.8h-1.85zM419.95,189.2h3.4v1.6h-3.4zM425.33,170.0h1.85V195.6h-1.85zM426.26,171.5h3.4v1.6h-3.4zM431.64,152.2h1.85V166.7h-1.85zM432.57,153.3h3.4v1.6h-3.4zM437.95,149.1h1.85V162.9h-1.85zM438.88,159.6h3.4v1.6h-3.4zM444.26,143.5h1.85V162.8h-1.85zM445.19,158.6h3.4v1.6h-3.4zM450.57,140.5h1.85V153.4h-1.85zM451.50,141.3h3.4v1.6h-3.4zM456.88,147.1h1.85V165.5h-1.85zM457.81,163.9h3.4v1.6h-3.4zM463.19,146.5h1.85V161.0h-1.85zM464.12,146.9h3.4v1.6h-3.4zM469.50,150.9h1.85V173.5h-1.85zM470.43,170.8h3.4v1.6h-3.4zM475.81,147.1h1.85V163.5h-1.85zM476.74,147.6h3.4v1.6h-3.4zM482.12,138.7h1.85V153.4h-1.85zM483.05,147.6h3.4v1.6h-3.4zM488.43,125.5h1.85V147.5h-1.85zM489.36,125.6h3.4v1.6h-3.4zM494.74,75.1h1.85V113.5h-1.85zM495.67,88.8h3.4v1.6h-3.4zM501.05,76.4h1.85V93.7h-1.85zM501.98,87.5h3.4v1.6h-3.4zM507.36,82.6h1.85V113.5h-1.85zM508.29,107.0h3.4v1.6h-3.4zM513.67,109.1h1.85V128.0h-1.85zM514.60,113.4h3.4v1.6h-3.4zM519.99,98.4h1.85V157.2h-1.85zM520.91,128.7h3.4v1.6h-3.4zM526.29,115.2h1.85V148.7h-1.85zM527.22,145.0h3.4v1.6h-3.4zM532.61,130.1h1.85V149.6h-1.85zM533.53,142.5h3.4v1.6h-3.4zM538.91,138.9h1.85V156.8h-1.85zM539.84,150.1h3.4v1.6h-3.4zM545.23,147.1h1.85V166.4h-1.85zM546.15,153.0h3.4v1.6h-3.4zM551.53,146.5h1.85V161.8h-1.85zM552.46,146.1h3.4v1.6h-3.4zM557.84,126.5h1.85V158.2h-1.85zM558.77,145.0h3.4v1.6h-3.4zM564.15,124.9h1.85V144.1h-1.85zM565.08,125.4h3.4v1.6h-3.4zM570.46,131.1h1.85V156.4h-1.85zM571.39,154.3h3.4v1.6h-3.4zM576.77,132.5h1.85V155.4h-1.85zM577.70,143.3h3.4v1.6h-3.4zM583.08,153.9h1.85V190.9h-1.85zM584.01,185.1h3.4v1.6h-3.4zM589.39,175.2h1.85V207.3h-1.85zM590.32,192.6h3.4v1.6h-3.4zM595.70,176.4h1.85V199.7h-1.85zM596.63,182.9h3.4v1.6h-3.4zM602.01,135.3h1.85V161.8h-1.85zM602.94,136.3h3.4v1.6h-3.4zM608.32,106.3h1.85V126.2h-1.85zM609.25,117.2h3.4v1.6h-3.4zM614.63,117.6h1.85V139.7h-1.85zM615.56,120.0h3.4v1.6h-3.4zM620.94,125.2h1.85V168.4h-1.85zM621.87,159.7h3.4v1.6h-3.4zM627.25,167.4h1.85V190.9h-1.85zM628.18,186.3h3.4v1.6h-3.4zM633.56,160.8h1.85V183.4h-1.85zM634.49,161.3h3.4v1.6h-3.4zM639.88,152.3h1.85V174.6h-1.85zM640.80,167.2h3.4v1.6h-3.4zM646.18,160.3h1.85V174.6h-1.85zM647.11,163.2h3.4v1.6h-3.4zM652.50,160.3h1.85V178.0h-1.85zM653.42,163.1h3.4v1.6h-3.4zM658.80,149.0h1.85V162.1h-1.85zM659.73,160.4h3.4v1.6h-3.4zM665.12,160.8h1.85V169.7h-1.85zM666.04,167.5h3.4v1.6h-3.4zM671.42,163.8h1.85V175.6h-1.85zM672.35,166.3h3.4v1.6h-3.4zM677.74,161.8h1.85V172.1h-1.85zM678.66,169.5h3.4v1.6h-3.4zM684.04,160.9h1.85V179.8h-1.85zM684.97,171.4h3.4v1.6h-3.4zM690.35,162.2h1.85V174.7h-1.85zM691.28,165.8h3.4v1.6h-3.4zM696.66,146.4h1.85V160.9h-1.85zM697.59,150.0h3.4v1.6h-3.4zM702.97,142.0h1.85V149.0h-1.85zM703.90,147.5h3.4v1.6h-3.4zM709.28,139.5h1.85V165.3h-1.85zM710.21,154.5h3.4v1.6h-3.4zM715.59,134.5h1.85V157.1h-1.85zM716.52,141.6h3.4v1.6h-3.4zM721.90,138.3h1.85V153.4h-1.85zM722.83,145.0h3.4v1.6h-3.4zM728.21,139.5h1.85V151.5h-1.85zM729.14,149.7h3.4v1.6h-3.4zM734.52,146.4h1.85V156.8h-1.85zM735.45,155.1h3.4v1.6h-3.4zM740.83,151.5h1.85V161.8h-1.85zM741.76,156.3h3.4v1.6h-3.4zM747.14,150.8h1.85V166.6h-1.85zM748.07,151.3h3.4v1.6h-3.4zM753.45,152.1h1.85V173.9h-1.85zM754.38,168.9h3.4v1.6h-3.4zM759.76,160.3h1.85V177.3h-1.85zM760.69,169.5h3.4v1.6h-3.4zM766.07,165.9h1.85V177.6h-1.85zM767.00,166.4h3.4v1.6h-3.4zM772.38,148.3h1.85V165.3h-1.85zM773.31,155.1h3.4v1.6h-3.4zM778.69,149.0h1.85V164.1h-1.85zM779.62,154.7h3.4v1.6h-3.4zM785.00,135.1h1.85V156.0h-1.85zM785.93,136.5h3.4v1.6h-3.4zM791.31,130.8h1.85V142.8h-1.85zM792.24,137.7h3.4v1.6h-3.4zM797.62,134.5h1.85V153.5h-1.85zM798.55,146.7h3.4v1.6h-3.4zM803.93,139.6h1.85V155.6h-1.85zM804.86,144.5h3.4v1.6h-3.4zM810.25,140.9h1.85V152.2h-1.85zM811.17,144.5h3.4v1.6h-3.4zM816.55,143.4h1.85V150.3h-1.85zM817.48,148.9h3.4v1.6h-3.4zM822.86,145.9h1.85V154.3h-1.85zM823.79,152.7h3.4v1.6h-3.4zM829.17,121.4h1.85V153.8h-1.85zM830.10,125.6h3.4v1.6h-3.4zM835.48,110.1h1.85V127.4h-1.85zM836.41,116.8h3.4v1.6h-3.4zM841.79,111.9h1.85V127.4h-1.85zM842.72,125.9h3.4v1.6h-3.4zM848.10,126.4h1.85V137.5h-1.85zM849.03,132.5h3.4v1.6h-3.4zM854.41,128.9h1.85V161.0h-1.85zM855.34,150.1h3.4v1.6h-3.4zM860.72,140.9h1.85V155.3h-1.85zM861.65,142.0h3.4v1.6h-3.4zM867.03,147.2h1.85V163.5h-1.85zM867.96,160.8h3.4v1.6h-3.4zM873.34,144.0h1.85V158.5h-1.85zM874.27,153.9h3.4v1.6h-3.4zM879.65,148.4h1.85V161.4h-1.85zM880.58,149.5h3.4v1.6h-3.4zM885.96,156.6h1.85V168.9h-1.85zM886.89,167.1h3.4v1.6h-3.4zM892.27,160.4h1.85V174.8h-1.85zM893.20,164.6h3.4v1.6h-3.4zM898.58,148.4h1.85V165.7h-1.85zM899.51,153.9h3.4v1.6h-3.4zM904.89,152.2h1.85V166.7h-1.85zM905.82,164.0h3.4v1.6h-3.4zM911.20,160.4h1.85V172.7h-1.85zM912.13,168.4h3.4v1.6h-3.4zM917.51,159.7h1.85V172.3h-1.85zM918.44,164.9h3.4v1.6h-3.4zM923.82,127.0h1.85V152.8h-1.85zM924.75,130.6h3.4v1.6h-3.4zM930.13,111.1h1.85V125.8h-1.85zM931.06,121.2h3.4v1.6h-3.4zM936.44,117.0h1.85V127.7h-1.85zM937.37,123.7h3.4v1.6h-3.4zM942.75,107.3h1.85V136.7h-1.85zM943.68,123.7h3.4v1.6h-3.4zM949.06,113.2h1.85V127.7h-1.85zM949.99,115.6h3.4v1.6h-3.4zM955.37,111.1h1.85V145.9h-1.85zM956.30,139.2h3.4v1.6h-3.4zM961.68,122.4h1.85V140.9h-1.85zM962.61,136.9h3.4v1.6h-3.4zM967.99,137.1h1.85V151.3h-1.85zM968.92,144.5h3.4v1.6h-3.4zM974.30,110.7h1.85V138.4h-1.85zM975.23,111.8h3.4v1.6h-3.4zM6.9,263.2h1.3v1.6h-1.3z" fill="#fff"/></g><g transform="translate(6.25,589.8) scale(0.3389,0.3222)" fill="#d1d4dc"><path d="M14 18H7V7H0V0h14v18z"/><circle cx="18.5" cy="3.6" r="3.6"/><path d="M28 18h-8L27.5 0h8L28 18z"/></g></svg>
<span class="t" id="p3700" style="left:983px;top:24px;font-size:7.9px;font-weight:normal;color:#b8bbc4;-webkit-text-stroke:0.18px #b8bbc4;transform:translate(0.90px,0.00px) rotate(0.02deg) scaleX(0.9288)">3700.00</span>
<div id="badge"></div>
<span class="t" id="hdr0" style="left:5px;top:5px;font-size:7.9px;font-weight:normal;color:#d1d4dc;-webkit-text-stroke:0.45px #d1d4dc;transform:translate(0.90px,0.90px) rotate(0.02deg) scaleX(0.9481)">JoniW</span>
<span class="t" id="hdr1" style="left:28px;top:5px;font-size:7.9px;font-weight:normal;color:#d1d4dc;-webkit-text-stroke:0.45px #d1d4dc;transform:translate(0.60px,0.90px) rotate(0.02deg) scaleX(0.9587)">published</span>
<span class="t" id="hdr2" style="left:63px;top:5px;font-size:7.9px;font-weight:normal;color:#d1d4dc;-webkit-text-stroke:0.45px #d1d4dc;transform:translate(0.30px,0.90px) rotate(0.02deg) scaleX(0.9224)">on</span>
<span class="t" id="hdr3" style="left:73px;top:5px;font-size:7.9px;font-weight:normal;color:#d1d4dc;-webkit-text-stroke:0.45px #d1d4dc;transform:translate(0.80px,0.90px) rotate(0.02deg) scaleX(0.9537)">TradingView.com,</span>
<span class="t" id="hdr4" style="left:135px;top:5px;font-size:7.9px;font-weight:normal;color:#d1d4dc;-webkit-text-stroke:0.45px #d1d4dc;transform:translate(0.70px,0.90px) rotate(0.02deg) scaleX(0.9031)">Jan</span>
<span class="t" id="hdr5" style="left:149px;top:5px;font-size:7.9px;font-weight:normal;color:#d1d4dc;-webkit-text-stroke:0.45px #d1d4dc;transform:translate(0.30px,0.90px) rotate(0.02deg) scaleX(0.9286)">25,</span>
<span class="t" id="hdr6" style="left:162px;top:5px;font-size:7.9px;font-weight:normal;color:#d1d4dc;-webkit-text-stroke:0.45px #d1d4dc;transform:translate(0.10px,0.90px) rotate(0.02deg) scaleX(0.9053)">2022</span>
<span class="t" id="hdr7" style="left:181px;top:5px;font-size:7.9px;font-weight:normal;color:#d1d4dc;-webkit-text-stroke:0.45px #d1d4dc;transform:translate(0.20px,0.90px) rotate(0.02deg) scaleX(0.9013)">13:06</span>
<span class="t" id="hdr8" style="left:201px;top:5px;font-size:7.9px;font-weight:normal;color:#d1d4dc;-webkit-text-stroke:0.45px #d1d4dc;transform:translate(0.10px,0.90px) rotate(0.02deg) scaleX(0.8763)">UTC+7</span>
<span class="t" id="lg00" style="left:11px;top:23px;font-size:7.9px;font-weight:normal;color:#b8bbc4;-webkit-text-stroke:0.18px #b8bbc4;transform:translate(0.00px,0.00px) rotate(0.02deg) scaleX(0.9244)">Amazon.com,</span>
<span class="t" id="lg01" style="left:58px;top:23px;font-size:7.9px;font-weight:normal;color:#b8bbc4;-webkit-text-stroke:0.18px #b8bbc4;transform:translate(0.80px,0.00px) rotate(0.02deg) scaleX(0.9717)">Inc.,</span>
<span class="t" id="lg02" style="left:77px;top:23px;font-size:7.9px;font-weight:normal;color:#b8bbc4;-webkit-text-stroke:0.18px #b8bbc4;transform:translate(0.40px,0.00px) rotate(0.02deg) scaleX(0.7898)">1D,</span>
<span class="t" id="lg03" style="left:90px;top:23px;font-size:7.9px;font-weight:normal;color:#b8bbc4;-webkit-text-stroke:0.18px #b8bbc4;transform:translate(0.50px,0.00px) rotate(0.02deg) scaleX(0.8401)">NASDAQ</span>
<span class="t" id="lgO" style="left:122px;top:23px;font-size:7.9px;font-weight:normal;color:#b8bbc4;-webkit-text-stroke:0.18px #b8bbc4;transform:translate(0.70px,0.00px) rotate(0.02deg) scaleX(0.7003)">O</span>
<span class="t" id="lgOv" style="left:127px;top:23px;font-size:7.9px;font-weight:bold;color:#e4e6eb;transform:translate(0.40px,0.11px) rotate(0.02deg) scaleX(0.9323)">2780.00</span>
<span class="t" id="lgH" style="left:158px;top:23px;font-size:7.9px;font-weight:normal;color:#b8bbc4;-webkit-text-stroke:0.18px #b8bbc4;transform:translate(0.90px,0.00px) rotate(0.02deg) scaleX(0.7890)">H</span>
<span class="t" id="lgHv" style="left:163px;top:23px;font-size:7.9px;font-weight:bold;color:#e4e6eb;transform:translate(0.90px,0.11px) rotate(0.02deg) scaleX(0.9008)">2898.90</span>
<span class="t" id="lgL" style="left:194px;top:23px;font-size:7.9px;font-weight:normal;color:#b8bbc4;-webkit-text-stroke:0.18px #b8bbc4;transform:translate(0.60px,0.00px) rotate(0.02deg) scaleX(0.6833)">L</span>
<span class="t" id="lgLv" style="left:197px;top:23px;font-size:7.9px;font-weight:bold;color:#e4e6eb;transform:translate(0.90px,0.11px) rotate(0.02deg) scaleX(0.9218)">2707.04</span>
<span class="t" id="lgC" style="left:229px;top:23px;font-size:7.9px;font-weight:normal;color:#b8bbc4;-webkit-text-stroke:0.18px #b8bbc4;transform:translate(0.50px,0.00px) rotate(0.02deg) scaleX(0.6663)">C</span>
<span class="t" id="lgCv" style="left:233px;top:23px;font-size:7.9px;font-weight:bold;color:#e4e6eb;transform:translate(0.60px,0.11px) rotate(0.02deg) scaleX(0.9218)">2890.88</span>
<span class="t" id="p3600" style="left:983px;top:48px;font-size:7.9px;font-weight:normal;color:#b8bbc4;-webkit-text-stroke:0.18px #b8bbc4;transform:translate(0.90px,0.00px) rotate(0.02deg) scaleX(0.9288)">3600.00</span>
<span class="t" id="p3500" style="left:983px;top:72px;font-size:7.9px;font-weight:normal;color:#b8bbc4;-webkit-text-stroke:0.18px #b8bbc4;transform:translate(0.90px,0.00px) rotate(0.02deg) scaleX(0.9288)">3500.00</span>
<span class="t" id="p3400" style="left:983px;top:96px;font-size:7.9px;font-weight:normal;color:#b8bbc4;-webkit-text-stroke:0.18px #b8bbc4;transform:translate(0.90px,0.00px) rotate(0.02deg) scaleX(0.9288)">3400.00</span>
<span class="t" id="p3300" style="left:983px;top:120px;font-size:7.9px;font-weight:normal;color:#b8bbc4;-webkit-text-stroke:0.18px #b8bbc4;transform:translate(0.90px,0.00px) rotate(0.02deg) scaleX(0.9288)">3300.00</span>
<span class="t" id="p3200" style="left:983px;top:144px;font-size:7.9px;font-weight:normal;color:#b8bbc4;-webkit-text-stroke:0.18px #b8bbc4;transform:translate(0.90px,0.00px) rotate(0.02deg) scaleX(0.9288)">3200.00</span>
<span class="t" id="p3100" style="left:983px;top:168px;font-size:7.9px;font-weight:normal;color:#b8bbc4;-webkit-text-stroke:0.18px #b8bbc4;transform:translate(0.90px,0.00px) rotate(0.02deg) scaleX(0.9288)">3100.00</span>
<span class="t" id="p3000" style="left:983px;top:192px;font-size:7.9px;font-weight:normal;color:#b8bbc4;-webkit-text-stroke:0.18px #b8bbc4;transform:translate(0.90px,0.00px) rotate(0.02deg) scaleX(0.9288)">3000.00</span>
<span class="t" id="p2900" style="left:983px;top:216px;font-size:7.9px;font-weight:normal;color:#b8bbc4;-webkit-text-stroke:0.18px #b8bbc4;transform:translate(0.90px,0.00px) rotate(0.02deg) scaleX(0.9288)">2900.00</span>
<span class="t" id="p2800" style="left:983px;top:240px;font-size:7.9px;font-weight:normal;color:#b8bbc4;-webkit-text-stroke:0.18px #b8bbc4;transform:translate(0.90px,0.00px) rotate(0.02deg) scaleX(0.9288)">2800.00</span>
<span class="t" id="p2700" style="left:983px;top:264px;font-size:7.9px;font-weight:normal;color:#b8bbc4;-webkit-text-stroke:0.18px #b8bbc4;transform:translate(0.90px,0.00px) rotate(0.02deg) scaleX(0.9288)">2700.00</span>
<span class="t" id="p2600" style="left:983px;top:288px;font-size:7.9px;font-weight:normal;color:#b8bbc4;-webkit-text-stroke:0.18px #b8bbc4;transform:translate(0.90px,0.00px) rotate(0.02deg) scaleX(0.9288)">2600.00</span>
<span class="t" id="p2500" style="left:983px;top:312px;font-size:7.9px;font-weight:normal;color:#b8bbc4;-webkit-text-stroke:0.18px #b8bbc4;transform:translate(0.90px,0.00px) rotate(0.02deg) scaleX(0.9288)">2500.00</span>
<span class="t" id="p2400" style="left:983px;top:336px;font-size:7.9px;font-weight:normal;color:#b8bbc4;-webkit-text-stroke:0.18px #b8bbc4;transform:translate(0.90px,0.00px) rotate(0.02deg) scaleX(0.9288)">2400.00</span>
<span class="t" id="p2300" style="left:983px;top:360px;font-size:7.9px;font-weight:normal;color:#b8bbc4;-webkit-text-stroke:0.18px #b8bbc4;transform:translate(0.90px,0.00px) rotate(0.02deg) scaleX(0.9288)">2300.00</span>
<span class="t" id="p2200" style="left:983px;top:384px;font-size:7.9px;font-weight:normal;color:#b8bbc4;-webkit-text-stroke:0.18px #b8bbc4;transform:translate(0.90px,0.00px) rotate(0.02deg) scaleX(0.9288)">2200.00</span>
<span class="t" id="p2100" style="left:983px;top:408px;font-size:7.9px;font-weight:normal;color:#b8bbc4;-webkit-text-stroke:0.18px #b8bbc4;transform:translate(0.90px,0.00px) rotate(0.02deg) scaleX(0.9288)">2100.00</span>
<span class="t" id="p2000" style="left:983px;top:432px;font-size:7.9px;font-weight:normal;color:#b8bbc4;-webkit-text-stroke:0.18px #b8bbc4;transform:translate(0.90px,0.00px) rotate(0.02deg) scaleX(0.9288)">2000.00</span>
<span class="t" id="p1900" style="left:983px;top:456px;font-size:7.9px;font-weight:normal;color:#b8bbc4;-webkit-text-stroke:0.18px #b8bbc4;transform:translate(0.90px,0.00px) rotate(0.02deg) scaleX(0.9288)">1900.00</span>
<span class="t" id="v75" style="left:983px;top:492px;font-size:7.9px;font-weight:normal;color:#b8bbc4;-webkit-text-stroke:0.18px #b8bbc4;transform:translate(0.90px,0.30px) rotate(0.02deg) scaleX(0.9175)">7.5M</span>
<span class="t" id="v5" style="left:983px;top:514px;font-size:7.9px;font-weight:normal;color:#b8bbc4;-webkit-text-stroke:0.18px #b8bbc4;transform:translate(0.90px,0.80px) rotate(0.02deg) scaleX(0.8661)">5M</span>
<span class="t" id="v25" style="left:983px;top:538px;font-size:7.9px;font-weight:normal;color:#b8bbc4;-webkit-text-stroke:0.18px #b8bbc4;transform:translate(0.90px,0.00px) rotate(0.02deg) scaleX(0.9175)">2.5M</span>
<span class="t" id="tv" style="left:20px;top:589px;font-size:8.2px;font-weight:normal;color:#d1d4dc;-webkit-text-stroke:0.3px #d1d4dc;transform:translate(0.80px,0.79px) rotate(0.02deg) scaleX(0.9764)">TradingView</span>
<span class="t" id="usd" style="left:991px;top:23px;font-size:7.6px;font-weight:normal;color:#d1d4dc;-webkit-text-stroke:0.18px #d1d4dc;transform:translate(0.20px,0.55px) rotate(0.02deg) scaleX(0.8039)">USD</span>
<div id="axisclip">
<span class="t" id="t0" style="left:35px;top:5px;font-size:7.9px;font-weight:normal;color:#b8bbc4;-webkit-text-stroke:0.18px #b8bbc4;transform:translate(0.06px,0.05px) rotate(0.02deg) scaleX(0.9907)">Jul</span>
<span class="t" id="t1" style="left:111px;top:5px;font-size:7.9px;font-weight:normal;color:#b8bbc4;-webkit-text-stroke:0.18px #b8bbc4;transform:translate(0.78px,0.05px) rotate(0.02deg) scaleX(0.9110)">20</span>
<span class="t" id="t2" style="left:172px;top:5px;font-size:7.9px;font-weight:normal;color:#b8bbc4;-webkit-text-stroke:0.18px #b8bbc4;transform:translate(0.88px,0.05px) rotate(0.02deg) scaleX(0.8543)">Aug</span>
<span class="t" id="t3" style="left:237px;top:5px;font-size:7.9px;font-weight:normal;color:#b8bbc4;-webkit-text-stroke:0.18px #b8bbc4;transform:translate(0.98px,0.05px) rotate(0.02deg) scaleX(0.9110)">17</span>
<span class="t" id="t4" style="left:305px;top:5px;font-size:7.9px;font-weight:normal;color:#b8bbc4;-webkit-text-stroke:0.18px #b8bbc4;transform:translate(0.14px,0.05px) rotate(0.02deg) scaleX(0.8899)">Sep</span>
<span class="t" id="t5" style="left:357px;top:5px;font-size:7.9px;font-weight:normal;color:#b8bbc4;-webkit-text-stroke:0.18px #b8bbc4;transform:translate(0.87px,0.05px) rotate(0.02deg) scaleX(0.9110)">14</span>
<span class="t" id="t6" style="left:438px;top:5px;font-size:7.9px;font-weight:normal;color:#b8bbc4;-webkit-text-stroke:0.18px #b8bbc4;transform:translate(0.15px,0.05px) rotate(0.02deg) scaleX(0.9364)">Oct</span>
<span class="t" id="t7" style="left:515px;top:5px;font-size:7.9px;font-weight:normal;color:#b8bbc4;-webkit-text-stroke:0.18px #b8bbc4;transform:translate(0.62px,0.05px) rotate(0.02deg) scaleX(0.9110)">19</span>
<span class="t" id="t8" style="left:576px;top:5px;font-size:7.9px;font-weight:normal;color:#b8bbc4;-webkit-text-stroke:0.18px #b8bbc4;transform:translate(0.72px,0.05px) rotate(0.02deg) scaleX(0.8543)">Nov</span>
<span class="t" id="t9" style="left:641px;top:5px;font-size:7.9px;font-weight:normal;color:#b8bbc4;-webkit-text-stroke:0.18px #b8bbc4;transform:translate(0.82px,0.05px) rotate(0.02deg) scaleX(0.9110)">16</span>
<span class="t" id="t10" style="left:702px;top:5px;font-size:7.9px;font-weight:normal;color:#b8bbc4;-webkit-text-stroke:0.18px #b8bbc4;transform:translate(0.92px,0.05px) rotate(0.02deg) scaleX(0.8543)">Dec</span>
<span class="t" id="t11" style="left:761px;top:5px;font-size:7.9px;font-weight:normal;color:#b8bbc4;-webkit-text-stroke:0.18px #b8bbc4;transform:translate(0.71px,0.05px) rotate(0.02deg) scaleX(0.9110)">14</span>
<span class="t" id="t12" style="left:839px;top:5px;font-size:7.9px;font-weight:normal;color:#b8bbc4;-webkit-text-stroke:0.18px #b8bbc4;transform:translate(0.74px,0.05px) rotate(0.02deg) scaleX(0.9110)">2021</span>
<span class="t" id="t13" style="left:894px;top:5px;font-size:7.9px;font-weight:normal;color:#b8bbc4;-webkit-text-stroke:0.18px #b8bbc4;transform:translate(0.22px,0.05px) rotate(0.02deg) scaleX(0.9110)">14</span>
<span class="t" id="t14" style="left:961px;top:5px;font-size:7.9px;font-weight:normal;color:#b8bbc4;-webkit-text-stroke:0.18px #b8bbc4;transform:translate(0.13px,0.05px) rotate(0.02deg) scaleX(0.9552)">Feb</span>
</div>
</body></html>
